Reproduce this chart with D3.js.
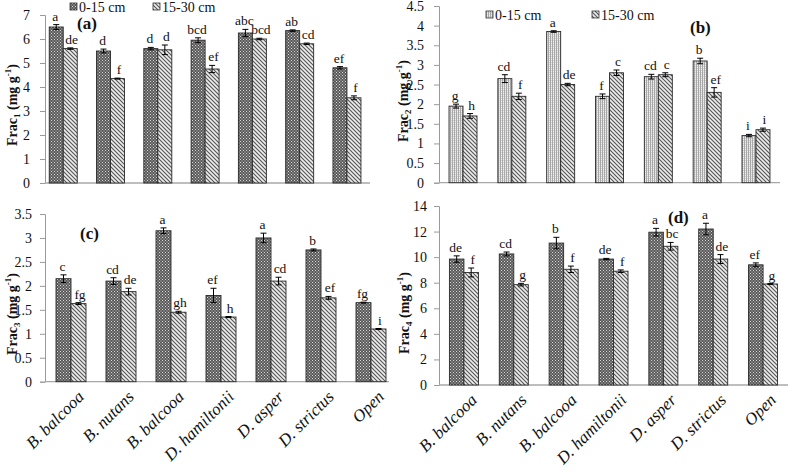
<!DOCTYPE html>
<html><head><meta charset="utf-8">
<script src="https://cdn.jsdelivr.net/npm/d3@7"></script>
<style>
html,body{margin:0;padding:0;background:#fff;}
svg{display:block;}
svg text{font-family:"Liberation Serif","DejaVu Serif",serif;}
</style></head>
<body><svg id="chart" width="789" height="472" font-family="Liberation Serif"></svg>
<script>
// ---------------- DATA ----------------
const categories = ["B. balcooa","B. nutans","B. balcooa","D. hamiltonii","D. asper","D. strictus","Open"];
const seriesNames = ["0-15 cm","15-30 cm"];

const frac1Top = [6.5, 5.5, 5.6, 5.95, 6.25, 6.35, 4.8];
const frac1Sub = [5.6, 4.35, 5.55, 4.75, 6.0, 5.8, 3.55];
const frac1TopErr = [0.1, 0.08, 0.05, 0.1, 0.15, 0.03, 0.05];
const frac1SubErr = [0.03, 0.02, 0.2, 0.15, 0.03, 0.03, 0.08];
const frac1TopLetters = ["a","d","d","bcd","abc","ab","ef"];
const frac1SubLetters = ["de","f","d","ef","bcd","cd","f"];

const frac2Top = [1.95, 2.65, 3.85, 2.2, 2.7, 3.1, 1.2];
const frac2Sub = [1.7, 2.2, 2.5, 2.8, 2.75, 2.3, 1.35];
const frac2TopErr = [0.05, 0.1, 0.02, 0.06, 0.06, 0.07, 0.03];
const frac2SubErr = [0.06, 0.08, 0.03, 0.07, 0.05, 0.12, 0.04];
const frac2TopLetters = ["g","cd","a","f","cd","b","i"];
const frac2SubLetters = ["h","f","de","c","c","ef","i"];

const frac3Top = [2.15, 2.1, 3.15, 1.8, 3.0, 2.75, 1.65];
const frac3Sub = [1.63, 1.88, 1.45, 1.35, 2.1, 1.75, 1.1];
const frac3TopErr = [0.08, 0.07, 0.06, 0.15, 0.1, 0.02, 0.01];
const frac3SubErr = [0.02, 0.07, 0.02, 0.01, 0.08, 0.03, 0.01];
const frac3TopLetters = ["c","cd","a","ef","a","b","fg"];
const frac3SubLetters = ["fg","de","gh","h","cd","ef","i"];

const frac4Top = [9.85, 10.25, 11.1, 9.85, 11.95, 12.2, 9.4];
const frac4Sub = [8.8, 7.85, 9.05, 8.9, 10.85, 9.85, 7.9];
const frac4TopErr = [0.25, 0.15, 0.45, 0.05, 0.3, 0.45, 0.15];
const frac4SubErr = [0.35, 0.1, 0.25, 0.1, 0.3, 0.35, 0.03];
const frac4TopLetters = ["de","cd","b","de","a","a","ef"];
const frac4SubLetters = ["f","g","f","f","bc","de","g"];

const ticksA = [0,1,2,3,4,5,6,7];
const ticksB = [0,0.5,1,1.5,2,2.5,3,3.5,4,4.5];
const ticksC = [0,0.5,1,1.5,2,2.5,3,3.5];
const ticksD = [0,2,4,6,8,10,12,14];

// ---------------- DRAW ----------------
const FONT = "Liberation Serif";
const svg = d3.select("#chart");
const defs = svg.append("defs");

const pDark = defs.append("pattern").attr("id","pDark").attr("patternUnits","userSpaceOnUse").attr("width",3).attr("height",3);
pDark.append("rect").attr("width",3).attr("height",3).attr("fill","#5a5a5a");
pDark.append("rect").attr("x",0).attr("y",0).attr("width",1).attr("height",1).attr("fill","#d8d8d8");
pDark.append("rect").attr("x",1.5).attr("y",1.5).attr("width",1).attr("height",1).attr("fill","#d0d0d0");

const pStripe = defs.append("pattern").attr("id","pStripe").attr("patternUnits","userSpaceOnUse").attr("width",4).attr("height",4);
pStripe.append("rect").attr("width",4).attr("height",4).attr("fill","#ececec");
pStripe.append("path").attr("d","M-1,-1 L5,5 M-1,3 L1,5 M3,-1 L5,1").attr("stroke","#555").attr("stroke-width",1.1);

const pLight = defs.append("pattern").attr("id","pLight").attr("patternUnits","userSpaceOnUse").attr("width",2).attr("height",2);
pLight.append("rect").attr("width",2).attr("height",2).attr("fill","#d4d4d4");
pLight.append("rect").attr("x",0).attr("y",0).attr("width",1).attr("height",2).attr("fill","#a8a8a8");
pLight.append("rect").attr("x",1).attr("y",1).attr("width",1).attr("height",1).attr("fill","#f0f0f0");

function fmt(v){ return d3.format("~g")(v); }
const idx = d3.range(categories.length);

function drawPanel(c){
  const g = svg.append("g").attr("font-family",FONT);
  const x = d3.scaleBand().domain(idx).range([c.x0, c.x1]).paddingInner(c.pad).paddingOuter(c.pad/2);
  const xs = d3.scaleBand().domain([0,1]).range([0, x.bandwidth()]);
  const y = d3.scaleLinear().domain([0, c.ymax]).range([c.yb, c.yt]);

  const ax = g.append("g").attr("transform",`translate(${c.axisX},0)`)
    .call(d3.axisLeft(y).tickValues(c.ticks).tickSize(5).tickPadding(c.tp).tickFormat(fmt));
  ax.attr("font-family",FONT);
  ax.select(".domain").attr("stroke","#9a9a9a");
  ax.selectAll(".tick line").attr("stroke","#9a9a9a");
  ax.selectAll(".tick text").attr("font-family",FONT).attr("font-size",14).attr("fill","#111");

  g.append("line").attr("x1",c.axisX).attr("x2",c.baseEnd).attr("y1",y(0)).attr("y2",y(0))
    .attr("stroke","#a8a8a8").attr("stroke-width",1.3);

  const rows = idx.map(i=>[
    {i, s:0, v:c.top[i], e:c.topErr[i], l:c.topLet[i], fill:c.topFill},
    {i, s:1, v:c.sub[i], e:c.subErr[i], l:c.subLet[i], fill:"url(#pStripe)"}
  ]).flat();

  const bars = g.selectAll(".bar").data(rows).enter().append("g");
  bars.append("rect")
    .attr("x",d=>x(d.i)+xs(d.s)).attr("width",xs.bandwidth())
    .attr("y",d=>y(d.v)).attr("height",d=>y(0)-y(d.v))
    .attr("fill",d=>d.fill).attr("stroke","#2a2a2a").attr("stroke-width",0.9);
  const cx = d=>x(d.i)+xs(d.s)+xs.bandwidth()/2;
  bars.append("path")
    .attr("d",d=>{const X=cx(d), a=y(d.v+d.e), b=y(d.v-d.e);
      return `M${X-3},${a}H${X+3}M${X},${a}V${b}M${X-3},${b}H${X+3}`;})
    .attr("stroke","#000").attr("stroke-width",1).attr("fill","none");
  bars.append("text")
    .attr("x",d=>cx(d)+(d.s===1?1.5:-1)).attr("y",d=>y(d.v+d.e)-4)
    .attr("text-anchor","middle").attr("font-family",FONT).attr("font-size",13.5).attr("fill","#111")
    .text(d=>d.l);

  const t = g.append("text").attr("transform",`translate(${c.titleX},${c.titleY}) rotate(-90)`)
    .attr("text-anchor","middle").attr("font-family",FONT).attr("font-weight","bold").attr("font-size",14).attr("fill","#111");
  t.append("tspan").text("Frac");
  t.append("tspan").attr("font-size",9).attr("dy",3).text(c.idx);
  t.append("tspan").attr("dy",-3).text(" (mg g");
  t.append("tspan").attr("font-size",9).attr("dy",-6).text("-1");
  t.append("tspan").attr("dy",6).text(")");

  g.append("text").attr("x",c.lblX).attr("y",c.lblY).attr("font-family",FONT).attr("font-weight","bold").attr("font-size",17)
    .attr("fill","#111").text(c.label);

  if(c.xlabels){
    g.selectAll(".xl").data(idx).enter().append("text")
      .attr("transform",i=>`translate(${x(i)+x.bandwidth()/2+14},${y(0)+16}) rotate(-45)`)
      .attr("text-anchor","end").attr("font-family",FONT).attr("font-style","italic").attr("font-size",17).attr("fill","#111")
      .text(i=>categories[i]);
  }
  if(c.legend){
    c.legend.forEach((L,i)=>{
      g.append("rect").attr("x",L.x).attr("y",L.y-9).attr("width",7).attr("height",7)
        .attr("fill",i===0?c.topFill:"url(#pStripe)").attr("stroke","#333").attr("stroke-width",0.8);
      g.append("text").attr("x",L.x+9).attr("y",L.y).attr("font-family",FONT).attr("font-size",14).attr("fill","#111").text(seriesNames[i]);
    });
  }
}

drawPanel({x0:39.6,x1:370.6,pad:0.408,axisX:45,baseEnd:370,yb:183,yt:15,ymax:7,ticks:ticksA,tp:10,
  top:frac1Top,sub:frac1Sub,topErr:frac1TopErr,subErr:frac1SubErr,topLet:frac1TopLetters,subLet:frac1SubLetters,
  topFill:"url(#pDark)",idx:"1",titleX:17,titleY:105,label:"(a)",lblX:77,lblY:29,xlabels:false,
  legend:[{x:70,y:12},{x:153,y:12}]});
drawPanel({x0:438.6,x1:780.4,pad:0.427,axisX:439,baseEnd:780,yb:182.7,yt:6,ymax:4.5,ticks:ticksB,tp:10,
  top:frac2Top,sub:frac2Sub,topErr:frac2TopErr,subErr:frac2SubErr,topLet:frac2TopLetters,subLet:frac2SubLetters,
  topFill:"url(#pLight)",idx:"2",titleX:408,titleY:101,label:"(b)",lblX:690,lblY:33,xlabels:false,
  legend:[{x:486,y:20},{x:592,y:20}]});
drawPanel({x0:46,x1:396,pad:0.4,axisX:45,baseEnd:389,yb:381.7,yt:214,ymax:3.5,ticks:ticksC,tp:8,
  top:frac3Top,sub:frac3Sub,topErr:frac3TopErr,subErr:frac3SubErr,topLet:frac3TopLetters,subLet:frac3SubLetters,
  topFill:"url(#pDark)",idx:"3",titleX:17,titleY:314,label:"(c)",lblX:80,lblY:239,xlabels:true});
drawPanel({x0:439,x1:788,pad:0.418,axisX:439,baseEnd:788,yb:385,yt:206,ymax:14,ticks:ticksD,tp:7,
  top:frac4Top,sub:frac4Sub,topErr:frac4TopErr,subErr:frac4SubErr,topLet:frac4TopLetters,subLet:frac4SubLetters,
  topFill:"url(#pDark)",idx:"4",titleX:409,titleY:313,label:"(d)",lblX:668,lblY:223,xlabels:true});
</script></body></html>
